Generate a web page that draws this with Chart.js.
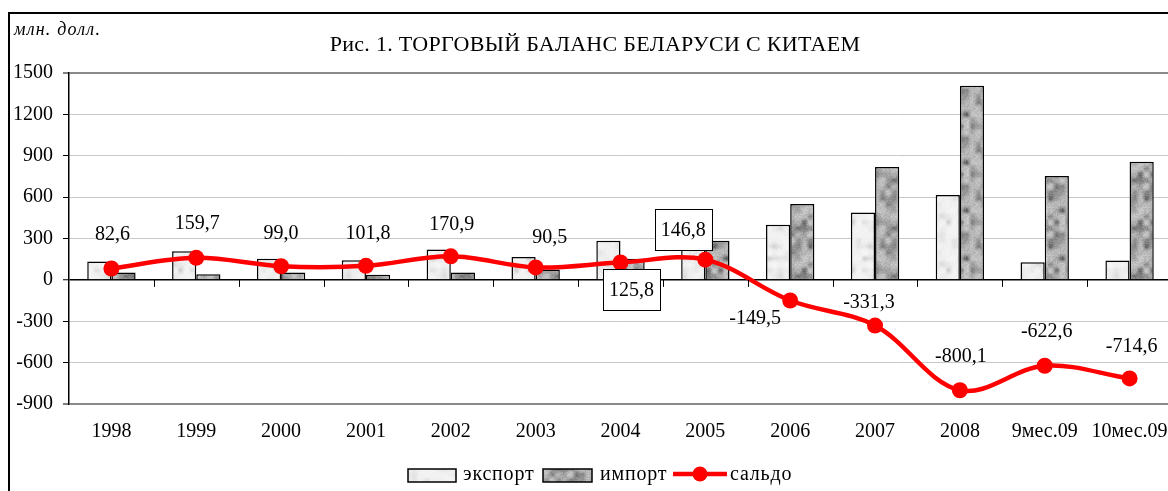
<!DOCTYPE html>
<html><head><meta charset="utf-8">
<script src="https://cdn.jsdelivr.net/npm/chart.js@4"></script>
<style>
html,body{margin:0;padding:0;overflow:hidden;background:#fff;width:1168px;height:491px}
#wrap{position:absolute;left:0;top:0;width:1180px;height:491px}
</style></head>
<body><div id="wrap"><canvas id="c" width="1180" height="491"></canvas></div>
<script>
const categories = ['1998','1999','2000','2001','2002','2003','2004','2005','2006','2007','2008','9мес.09','10мес.09'];
const exportValues = [133, 208, 154, 143, 220, 165, 283, 430, 399, 488, 616, 128, 140];
const importValues = [53, 40, 53, 38, 53, 75, 154, 283, 551, 819, 1408, 754, 857];
const saldoValues = [82.6, 159.7, 99.0, 101.8, 170.9, 90.5, 125.8, 146.8, -149.5, -331.3, -800.1, -622.6, -714.6];
const yMin = -900, yMax = 1500, yStep = 300;
const seriesNames = ['экспорт', 'импорт', 'сальдо'];
const titleText = 'Рис. 1. ТОРГОВЫЙ БАЛАНС БЕЛАРУСИ С КИТАЕМ';
const unitText = 'млн. долл.';

const SERIF = '"Liberation Serif", "Times New Roman", serif';
// label placement relative to point (style)
const labelPlace = [
  {dx:1,dy:-35},{dx:1,dy:-35},{dx:0,dy:-33},{dx:2,dy:-33},{dx:1,dy:-33},{dx:14,dy:-31},
  {dx:11,dy:27,box:true},{dx:-22,dy:-30,box:true},{dx:-35,dy:17},{dx:-6,dy:-24},
  {dx:1,dy:-34},{dx:2,dy:-35},{dx:2,dy:-33}
];

function hash(i, j, s) { const v = Math.sin(i * 127.1 + j * 311.7 + s * 17.3) * 43758.5453; return v - Math.floor(v); }
function makePattern(kind) {
  const N = 48, cell = 6, M = N / cell;
  const c = document.createElement('canvas'); c.width = N; c.height = N;
  const g = c.getContext('2d'); const img = g.createImageData(N, N);
  const sm = t => t * t * (3 - 2 * t);
  for (let y = 0; y < N; y++) for (let x = 0; x < N; x++) {
    const ci = Math.floor(x / cell), cj = Math.floor(y / cell);
    const fx = sm((x % cell) / cell), fy = sm((y % cell) / cell);
    const s = kind === 'e' ? 1 : 2;
    const a = hash(ci % M, cj % M, s), b = hash((ci + 1) % M, cj % M, s);
    const cc = hash(ci % M, (cj + 1) % M, s), d = hash((ci + 1) % M, (cj + 1) % M, s);
    const n = (a * (1 - fx) + b * fx) * (1 - fy) + (cc * (1 - fx) + d * fx) * fy;
    const f = hash(x, y, s + 5);
    let v;
    if (kind === 'e') v = 248 - 38 * Math.pow(n, 2.2) - 8 * f;
    else v = 195 - 100 * Math.pow(n, 1.6) + 25 * (f - 0.5);
    v = Math.max(0, Math.min(255, v));
    const k = (y * N + x) * 4; img.data[k] = v; img.data[k + 1] = v; img.data[k + 2] = v; img.data[k + 3] = 255;
  }
  g.putImageData(img, 0, 0);
  return document.getElementById('c').getContext('2d').createPattern(c, 'repeat');
}
const expPattern = makePattern('e');
const impPattern = makePattern('i');

const fmt = v => v.toFixed(1).replace('.', ',');

const decor = {
  id: 'decor',
  beforeDraw(chart) {
    const ctx = chart.ctx;
    ctx.save();
    ctx.strokeStyle = '#000'; ctx.lineWidth = 2;
    ctx.beginPath(); ctx.moveTo(9, 491); ctx.lineTo(9, 13); ctx.lineTo(1180, 13); ctx.stroke();
    ctx.fillStyle = '#000';
    ctx.font = 'italic 18px ' + SERIF; ctx.textAlign = 'left'; ctx.textBaseline = 'middle';
    ctx.letterSpacing = '1.2px';
    ctx.fillText(unitText, 14, 30);
    ctx.font = '22px ' + SERIF; ctx.textAlign = 'center';
    ctx.letterSpacing = '0.3px';
    ctx.fillText(titleText, 595, 45);
    // legend
    const ly = 475;
    ctx.font = '20px ' + SERIF; ctx.textAlign = 'left';
    ctx.letterSpacing = '0.8px';
    ctx.lineWidth = 1.5;
    ctx.fillStyle = expPattern; ctx.fillRect(408, 469, 48, 13); ctx.strokeRect(408, 469, 48, 13);
    ctx.fillStyle = '#000'; ctx.fillText(seriesNames[0], 463, ly);
    ctx.fillStyle = impPattern; ctx.fillRect(543, 469, 49, 13); ctx.strokeRect(543, 469, 49, 13);
    ctx.fillStyle = '#000'; ctx.fillText(seriesNames[1], 600, ly);
    ctx.strokeStyle = '#ff0000'; ctx.lineWidth = 4.5;
    ctx.beginPath(); ctx.moveTo(673, 474); ctx.lineTo(727, 474); ctx.stroke();
    ctx.fillStyle = '#ff0000'; ctx.beginPath(); ctx.arc(700, 474, 7.5, 0, Math.PI * 2); ctx.fill();
    ctx.fillStyle = '#000'; ctx.fillText(seriesNames[2], 730, ly);
    ctx.letterSpacing = '0px';
    ctx.restore();
  },
  afterDatasetsDraw(chart) {
    const ctx = chart.ctx, xs = chart.scales.x, ys = chart.scales.y;
    const y0 = ys.getPixelForValue(0);
    ctx.save();
    ctx.strokeStyle = '#000'; ctx.lineWidth = 1;
    for (let i = 1; i < categories.length; i++) {
      const xb = Math.round((xs.getPixelForValue(i - 1) + xs.getPixelForValue(i)) / 2) + 0.5;
      ctx.beginPath(); ctx.moveTo(xb, y0); ctx.lineTo(xb, y0 + 7); ctx.stroke();
    }
    const meta = chart.getDatasetMeta(2);
    ctx.font = '20px ' + SERIF; ctx.textAlign = 'center'; ctx.textBaseline = 'middle';
    meta.data.forEach((pt, i) => {
      const p = labelPlace[i] || {dx:0, dy:-34};
      const cx = pt.x + p.dx, cy = pt.y + p.dy, t = fmt(saldoValues[i]);
      if (p.box) {
        const w = ctx.measureText(t).width + 12, h = 41;
        ctx.fillStyle = '#fff'; ctx.fillRect(cx - w / 2, cy - h / 2, w, h);
        ctx.strokeStyle = '#000'; ctx.lineWidth = 1; ctx.strokeRect(Math.round(cx - w / 2) + 0.5, Math.round(cy - h / 2) + 0.5, Math.round(w), h);
      }
      ctx.fillStyle = '#000'; ctx.fillText(t, cx, cy + 1);
    });
    ctx.restore();
  }
};

const gridColor = c => {
  const v = c.tick && c.tick.value;
  if (v === 0) return '#000';
  if (v === yMax || v === yMin) return '#8a8a8a';
  return '#c8c8c8';
};
const gridWidth = c => {
  const v = c.tick && c.tick.value;
  if (v === 0) return 1.5;
  if (v === yMax || v === yMin) return 2;
  return 1;
};

new Chart(document.getElementById('c'), {
  data: {
    labels: categories,
    datasets: [
      { type: 'bar', label: seriesNames[0], data: exportValues, backgroundColor: expPattern, borderColor: '#000', borderWidth: 1.5, order: 2, barPercentage: 1, categoryPercentage: 0.57 },
      { type: 'bar', label: seriesNames[1], data: importValues, backgroundColor: impPattern, borderColor: '#000', borderWidth: 1.5, order: 2, barPercentage: 1, categoryPercentage: 0.57 },
      { type: 'line', label: seriesNames[2], data: saldoValues, borderColor: '#ff0000', borderWidth: 4.5, pointRadius: 8, pointBackgroundColor: '#ff0000', pointBorderWidth: 0, tension: 0.35, order: 0 }
    ]
  },
  options: {
    responsive: false, animation: false, devicePixelRatio: 1,
    layout: { padding: { top: 73, right: 6, left: 0, bottom: 0 } },
    plugins: { legend: { display: false }, tooltip: { enabled: false }, title: { display: false } },
    scales: {
      x: {
        offset: true,
        grid: { display: true, drawOnChartArea: false, drawTicks: true, tickLength: 16, tickColor: 'rgba(0,0,0,0)' },
        border: { display: false },
        ticks: { font: { family: SERIF, size: 20 }, color: '#000', padding: 0, maxRotation: 0, autoSkip: false },
        afterFit(s) { s.height = 87; }
      },
      y: {
        min: yMin, max: yMax,
        ticks: { stepSize: yStep, font: { family: SERIF, size: 20 }, color: '#000', padding: 10, callback: v => String(v) },
        grid: { color: gridColor, lineWidth: gridWidth, tickLength: 6, tickColor: '#000', tickWidth: 1 },
        border: { color: '#000', width: 1.5 },
        afterFit(s) { s.width = 69; }
      }
    }
  },
  plugins: [decor]
});
</script>
</body></html>
